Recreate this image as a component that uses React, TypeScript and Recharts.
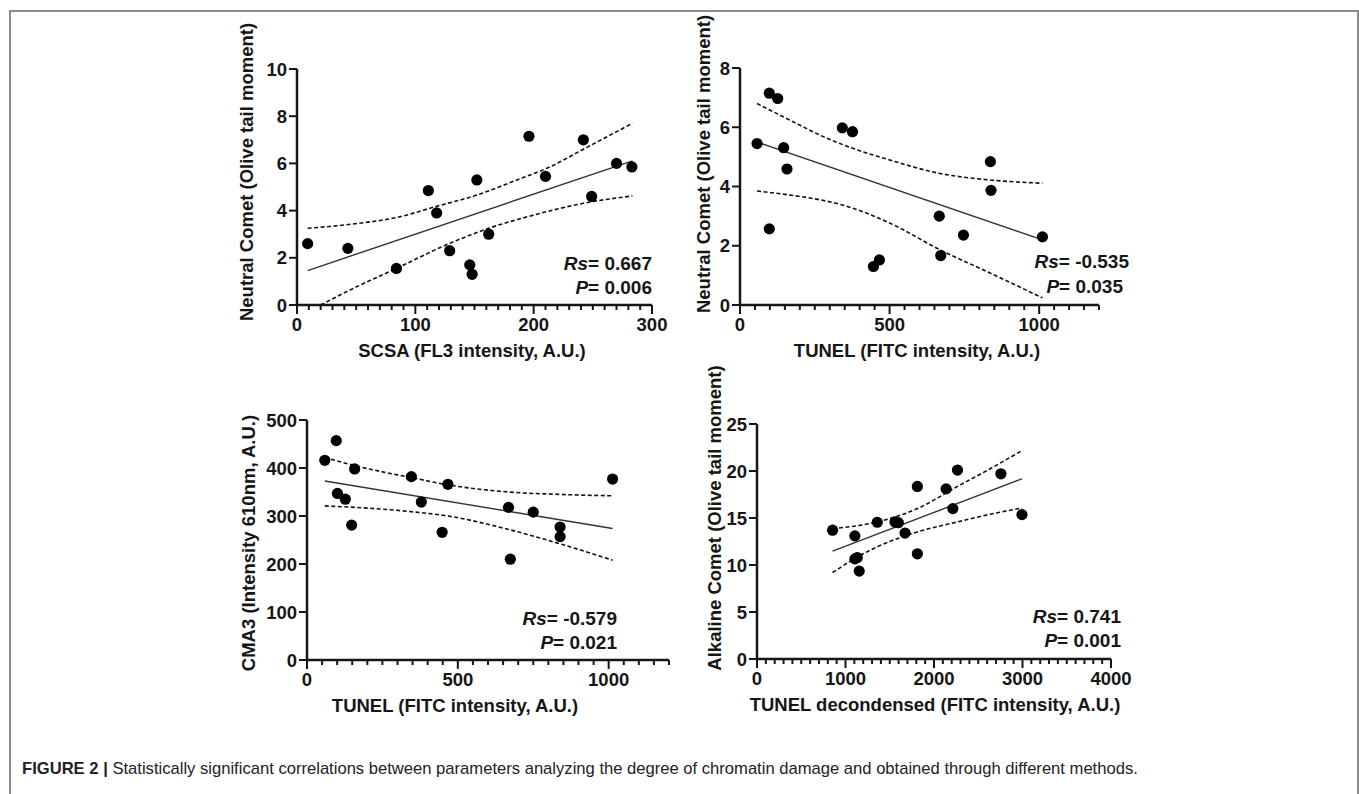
import React from "react";
import { ScatterChart, Scatter, XAxis, YAxis } from "recharts";

type Pt = { x: number; y: number };

// ── Panel 1: SCSA vs neutral comet ──
const scsaPoints: Pt[] = [
  { x: 9, y: 2.6 }, { x: 43, y: 2.4 }, { x: 84, y: 1.55 }, { x: 111, y: 4.85 },
  { x: 118, y: 3.9 }, { x: 129, y: 2.3 }, { x: 146, y: 1.7 }, { x: 148, y: 1.3 },
  { x: 152, y: 5.3 }, { x: 162, y: 3.0 }, { x: 196, y: 7.15 }, { x: 210, y: 5.45 },
  { x: 242, y: 7.0 }, { x: 249, y: 4.6 }, { x: 270, y: 6.0 }, { x: 283, y: 5.85 },
];
const scsaFit: Pt[] = [{ x: 9, y: 1.46 }, { x: 283.5, y: 6.11 }];
const scsaUpper: Pt[] = [
  { x: 9, y: 3.25 }, { x: 45, y: 3.42 }, { x: 87, y: 3.74 }, { x: 115, y: 4.14 },
  { x: 152, y: 4.66 }, { x: 186, y: 5.3 }, { x: 214, y: 5.86 }, { x: 242, y: 6.6 },
  { x: 283.5, y: 7.7 },
];
const scsaLower: Pt[] = [
  { x: 20, y: 0 }, { x: 45, y: 0.64 }, { x: 84, y: 1.55 }, { x: 129, y: 2.61 },
  { x: 162, y: 3.25 }, { x: 200, y: 3.81 }, { x: 242, y: 4.31 }, { x: 283.5, y: 4.62 },
];

// ── Panel 2: TUNEL vs neutral comet ──
const tunelNeutralPoints: Pt[] = [
  { x: 57, y: 5.45 }, { x: 98, y: 7.15 }, { x: 126, y: 6.97 }, { x: 146, y: 5.31 },
  { x: 157, y: 4.59 }, { x: 98, y: 2.57 }, { x: 342, y: 5.98 }, { x: 376, y: 5.85 },
  { x: 837, y: 4.84 }, { x: 839, y: 3.87 }, { x: 666, y: 3.0 }, { x: 747, y: 2.36 },
  { x: 671, y: 1.67 }, { x: 466, y: 1.52 }, { x: 446, y: 1.3 }, { x: 1011, y: 2.3 },
];
const tunelNeutralFit: Pt[] = [{ x: 57, y: 5.5 }, { x: 1011, y: 2.2 }];
const tunelNeutralUpper: Pt[] = [
  { x: 57, y: 6.8 }, { x: 167, y: 6.24 }, { x: 268, y: 5.73 }, { x: 334, y: 5.45 },
  { x: 502, y: 4.89 }, { x: 669, y: 4.44 }, { x: 836, y: 4.22 }, { x: 1011, y: 4.11 },
];
const tunelNeutralLower: Pt[] = [
  { x: 57, y: 3.85 }, { x: 167, y: 3.71 }, { x: 268, y: 3.55 }, { x: 334, y: 3.4 },
  { x: 502, y: 2.76 }, { x: 669, y: 1.86 }, { x: 836, y: 1.08 }, { x: 1011, y: 0.24 },
];

// ── Panel 3: TUNEL vs CMA3 ──
const cma3Points: Pt[] = [
  { x: 59, y: 416 }, { x: 97, y: 457 }, { x: 101, y: 347 }, { x: 127, y: 335 },
  { x: 158, y: 398 }, { x: 148, y: 281 }, { x: 346, y: 382 }, { x: 379, y: 329 },
  { x: 448, y: 266 }, { x: 467, y: 366 }, { x: 668, y: 318 }, { x: 674, y: 210 },
  { x: 750, y: 308 }, { x: 839, y: 277 }, { x: 839, y: 257 }, { x: 1013, y: 377 },
];
const cma3Fit: Pt[] = [{ x: 59, y: 373 }, { x: 1013, y: 274 }];
const cma3Upper: Pt[] = [
  { x: 59, y: 422 }, { x: 158, y: 405 }, { x: 346, y: 380 }, { x: 467, y: 365 },
  { x: 668, y: 350 }, { x: 839, y: 345 }, { x: 1013, y: 342 },
];
const cma3Lower: Pt[] = [
  { x: 59, y: 321 }, { x: 158, y: 318 }, { x: 346, y: 309 }, { x: 467, y: 300 },
  { x: 668, y: 272 }, { x: 839, y: 242 }, { x: 1013, y: 208 },
];

// ── Panel 4: TUNEL decondensed vs alkaline comet ──
const alkalinePoints: Pt[] = [
  { x: 854, y: 13.7 }, { x: 1106, y: 13.1 }, { x: 1106, y: 10.65 }, { x: 1133, y: 10.8 },
  { x: 1155, y: 9.35 }, { x: 1359, y: 14.55 }, { x: 1559, y: 14.58 }, { x: 1597, y: 14.5 },
  { x: 1673, y: 13.4 }, { x: 1812, y: 18.36 }, { x: 1812, y: 11.19 }, { x: 2137, y: 18.1 },
  { x: 2213, y: 16.0 }, { x: 2265, y: 20.1 }, { x: 2756, y: 19.7 }, { x: 2994, y: 15.36 },
];
const alkalineFit: Pt[] = [{ x: 854, y: 11.47 }, { x: 2994, y: 19.17 }];
const alkalineUpper: Pt[] = [
  { x: 854, y: 13.87 }, { x: 1359, y: 14.58 }, { x: 1812, y: 16.0 }, { x: 2265, y: 18.36 },
  { x: 2598, y: 20.05 }, { x: 2994, y: 22.17 },
];
const alkalineLower: Pt[] = [
  { x: 854, y: 9.18 }, { x: 1106, y: 10.7 }, { x: 1359, y: 11.93 }, { x: 1812, y: 13.52 },
  { x: 2265, y: 14.58 }, { x: 2756, y: 15.64 }, { x: 2994, y: 16.06 },
];

// tick values
const steps = (max: number, step: number) =>
  Array.from({ length: Math.round(max / step) + 1 }, (_, i) => i * step);

const FONT = "'Liberation Sans', Arial, Helvetica, sans-serif";
const INK = "#161616";
const YW = 80;
const XH = 70;
const PADR = 90;

const Dot = (p: any) => <circle cx={p.cx} cy={p.cy} r={5.6} fill="#000" />;
const NoDot = () => <g />;

const XTick = (p: any) => {
  const major = p.payload.value % p.major === 0;
  return (
    <g>
      <line x1={p.x} x2={p.x} y1={p.y} y2={p.y + (major ? 9 : 5)} stroke={INK} strokeWidth={2} />
      {major && (
        <text x={p.x} y={p.y + 26} textAnchor="middle" fontFamily={FONT} fontWeight={700} fontSize={18.5} fill={INK}>
          {p.payload.value}
        </text>
      )}
    </g>
  );
};

const YTick = (p: any) => (
  <g>
    <line x1={p.x - 8} x2={p.x} y1={p.y} y2={p.y} stroke={INK} strokeWidth={2} />
    <text x={p.x - 10} y={p.y} dy="0.36em" textAnchor="end" fontFamily={FONT} fontWeight={700} fontSize={18.5} fill={INK}>
      {p.payload.value}
    </text>
  </g>
);

interface PanelProps {
  plot: { left: number; top: number; right: number; bottom: number };
  padTop: number;
  xMax: number;
  xStep: number;
  xMajor: number;
  yMax: number;
  yTicks: number[];
  points: Pt[];
  fit: Pt[];
  upper: Pt[];
  lower: Pt[];
  xTitle: string;
  xTitleX: number;
  yTitle: string;
  yTitleX: number;
  yTitleY: number;
  rs: string;
  p: string;
  rsRight: number;
  rsY: number;
  pRight: number;
  pY: number;
}

const Panel: React.FC<PanelProps> = (c) => {
  const left = c.plot.left - YW;
  const top = c.plot.top - c.padTop;
  const width = c.plot.right - c.plot.left + YW + PADR;
  const height = c.padTop + c.plot.bottom - c.plot.top + XH;
  const dash = { stroke: "#111", strokeWidth: 1.6, strokeDasharray: "4 2.5" };

  const yTitle = () => (
    <text
      x={c.yTitleX - left}
      y={c.yTitleY - top}
      dy="0.36em"
      textAnchor="middle"
      transform={`rotate(-90, ${c.yTitleX - left}, ${c.yTitleY - top})`}
      fontFamily={FONT}
      fontWeight={700}
      fontSize={18.5}
      fill={INK}
    >
      {c.yTitle}
    </text>
  );

  const xTitle = () => (
    <g fontFamily={FONT} fontWeight={700} fill={INK}>
      <text x={c.xTitleX - left} y={c.plot.bottom + 52 - top} textAnchor="middle" fontSize={18.5}>
        {c.xTitle}
      </text>
      <text x={c.rsRight - left} y={c.rsY - top} textAnchor="end" fontSize={19}>
        <tspan fontStyle="italic">Rs</tspan>= {c.rs}
      </text>
      <text x={c.pRight - left} y={c.pY - top} textAnchor="end" fontSize={19}>
        <tspan fontStyle="italic">P</tspan>= {c.p}
      </text>
    </g>
  );

  return (
    <div style={{ position: "absolute", left, top }}>
      <ScatterChart width={width} height={height} margin={{ top: c.padTop, right: PADR, bottom: 0, left: 0 }}>
        <XAxis
          type="number"
          dataKey="x"
          domain={[0, c.xMax]}
          ticks={steps(c.xMax, c.xStep)}
          interval={0}
          tickSize={0}
          tickMargin={0}
          tickLine={false}
          axisLine={{ stroke: INK, strokeWidth: 2.5 }}
          tick={(p: any) => <XTick {...p} major={c.xMajor} />}
          height={XH}
          allowDataOverflow
          label={{ content: xTitle }}
        />
        <YAxis
          type="number"
          dataKey="y"
          domain={[0, c.yMax]}
          ticks={c.yTicks}
          interval={0}
          tickSize={0}
          tickMargin={0}
          tickLine={false}
          axisLine={{ stroke: INK, strokeWidth: 2.5 }}
          tick={(p: any) => <YTick {...p} />}
          width={YW}
          allowDataOverflow
          label={{ content: yTitle }}
        />
        <Scatter data={c.upper} line={dash} lineJointType="monotoneX" shape={NoDot} isAnimationActive={false} />
        <Scatter data={c.lower} line={dash} lineJointType="monotoneX" shape={NoDot} isAnimationActive={false} />
        <Scatter data={c.fit} line={{ stroke: "#333", strokeWidth: 1.4 }} shape={NoDot} isAnimationActive={false} />
        <Scatter data={c.points} shape={Dot} isAnimationActive={false} />
      </ScatterChart>
    </div>
  );
};

const App: React.FC = () => (
  <div
    style={{
      position: "absolute",
      left: 0,
      top: 0,
      width: 1359,
      height: 794,
      overflow: "hidden",
      background: "#fff",
    }}
  >
    <div
      style={{
        position: "absolute",
        left: 9,
        top: 10,
        width: 1350,
        height: 820,
        boxSizing: "border-box",
        border: "2px solid #8c8c8c",
      }}
    />
    <Panel
      plot={{ left: 297, top: 69, right: 652, bottom: 305 }}
      padTop={60}
      xMax={300}
      xStep={10}
      xMajor={100}
      yMax={10}
      yTicks={[0, 2, 4, 6, 8, 10]}
      points={scsaPoints}
      fit={scsaFit}
      upper={scsaUpper}
      lower={scsaLower}
      xTitle="SCSA (FL3 intensity, A.U.)"
      xTitleX={472}
      yTitle="Neutral Comet (Olive tail moment)"
      yTitleX={246}
      yTitleY={172}
      rs="0.667"
      p="0.006"
      rsRight={652}
      rsY={270}
      pRight={652}
      pY={294}
    />
    <Panel
      plot={{ left: 740, top: 68, right: 1099, bottom: 305 }}
      padTop={66}
      xMax={1200}
      xStep={50}
      xMajor={500}
      yMax={8}
      yTicks={[0, 2, 4, 6, 8]}
      points={tunelNeutralPoints}
      fit={tunelNeutralFit}
      upper={tunelNeutralUpper}
      lower={tunelNeutralLower}
      xTitle="TUNEL (FITC intensity, A.U.)"
      xTitleX={917}
      yTitle="Neutral Comet (Olive tail moment)"
      yTitleX={703}
      yTitleY={164}
      rs="-0.535"
      p="0.035"
      rsRight={1129}
      rsY={268}
      pRight={1123}
      pY={293}
    />
    <Panel
      plot={{ left: 307, top: 420, right: 669, bottom: 660 }}
      padTop={32}
      xMax={1200}
      xStep={50}
      xMajor={500}
      yMax={500}
      yTicks={[0, 100, 200, 300, 400, 500]}
      points={cma3Points}
      fit={cma3Fit}
      upper={cma3Upper}
      lower={cma3Lower}
      xTitle="TUNEL (FITC intensity, A.U.)"
      xTitleX={455}
      yTitle="CMA3 (Intensity 610nm, A.U.)"
      yTitleX={248}
      yTitleY={543}
      rs="-0.579"
      p="0.021"
      rsRight={617}
      rsY={625}
      pRight={617}
      pY={649}
    />
    <Panel
      plot={{ left: 757, top: 424, right: 1111, bottom: 659 }}
      padTop={70}
      xMax={4000}
      xStep={100}
      xMajor={1000}
      yMax={25}
      yTicks={[0, 5, 10, 15, 20, 25]}
      points={alkalinePoints}
      fit={alkalineFit}
      upper={alkalineUpper}
      lower={alkalineLower}
      xTitle="TUNEL decondensed (FITC intensity, A.U.)"
      xTitleX={935}
      yTitle="Alkaline Comet (Olive tail moment)"
      yTitleX={714}
      yTitleY={518}
      rs="0.741"
      p="0.001"
      rsRight={1121}
      rsY={623}
      pRight={1121}
      pY={647}
    />
    <div
      style={{
        position: "absolute",
        left: 22,
        top: 759,
        fontFamily: FONT,
        fontSize: 16.6,
        lineHeight: "19px",
        color: "#222",
        whiteSpace: "nowrap",
      }}
    >
      <b>FIGURE 2 |</b> Statistically significant correlations between parameters analyzing the degree of
      chromatin damage and obtained through different methods.
    </div>
  </div>
);

export default App;
